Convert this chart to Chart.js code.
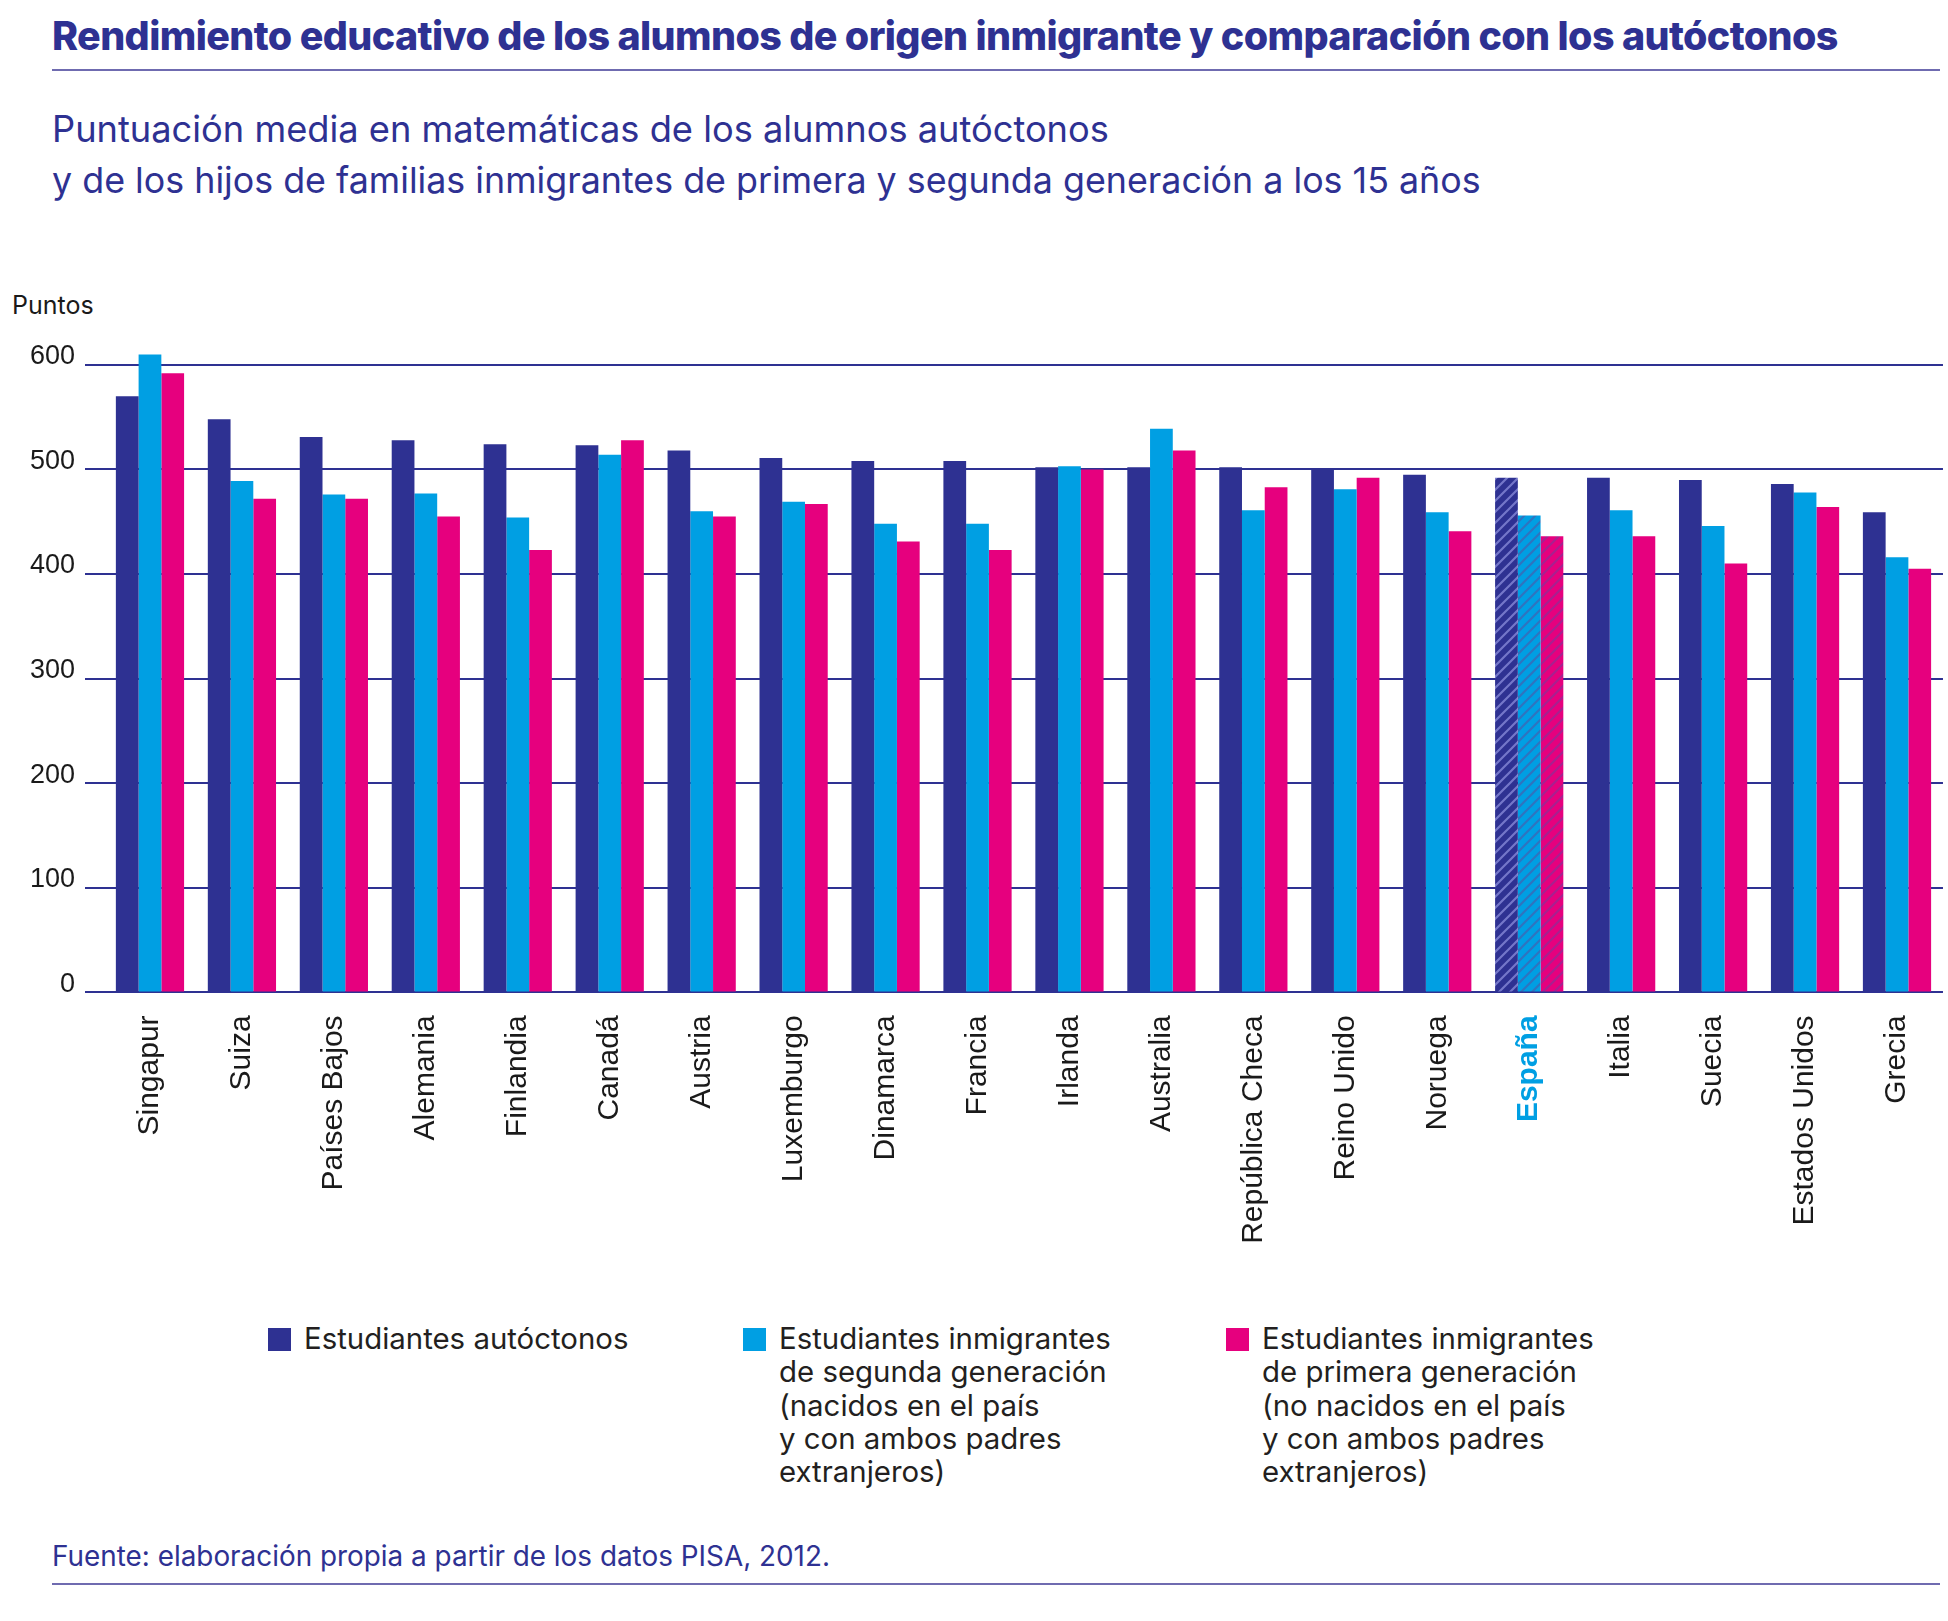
<!DOCTYPE html>
<html lang="es">
<head>
<meta charset="utf-8">
<title>Rendimiento educativo de los alumnos de origen inmigrante</title>
<script src="https://cdn.jsdelivr.net/npm/chart.js@4.4.1/dist/chart.umd.min.js"></script>
<style>
  html, body { margin: 0; padding: 0; background: #fff; }
  body { width: 1948px; height: 1621px; position: relative; overflow: hidden;
         font-family: "Inter", "Roboto", sans-serif; }
  .txt { position: absolute; white-space: nowrap; line-height: 1.2; transform: translateY(-50%); }
  .rule { position: absolute; height: 2px; background: #6f6bb0; }
  #title { left: 52px; top: 37px; color: #2e3192; font-weight: 800; font-size: 35px; letter-spacing: -0.6px; }
  .sub { left: 52px; color: #2e3192; font-weight: 400; font-size: 34px; }
  #puntos { left: 12px; top: 305px; color: #1a1a1a; font-size: 25px; }
  #footer { left: 52px; top: 1557px; color: #2e3192; font-size: 28px; }
  .sw { position: absolute; width: 23px; height: 23px; top: 1328px; }
  .leg { position: absolute; top: 1322px; color: #231f20; font-size: 29.4px; line-height: 33.3px; white-space: nowrap; }
  #chartBox { position: absolute; left: 0; top: 280px; width: 1948px; height: 1000px; }
</style>
</head>
<body>
<div id="title" class="txt" data-w="1780">Rendimiento educativo de los alumnos de origen inmigrante y comparación con los autóctonos</div>
<div class="rule" style="left:52px; top:69px; width:1888px;"></div>
<div class="txt sub" style="top:130px;" data-w="1057">Puntuación media en matemáticas de los alumnos autóctonos</div>
<div class="txt sub" style="top:180px;" data-w="1429">y de los hijos de familias inmigrantes de primera y segunda generación a los 15 años</div>
<div id="puntos" class="txt">Puntos</div>

<div id="chartBox"><canvas id="mainChart"></canvas></div>

<div class="sw" style="left:268px; background:#2e3192;"></div>
<div class="leg" style="left:304px;">Estudiantes autóctonos</div>
<div class="sw" style="left:743px; background:#009fe3;"></div>
<div class="leg" style="left:779px;">Estudiantes inmigrantes<br>de segunda generación<br>(nacidos en el país<br>y con ambos padres<br>extranjeros)</div>
<div class="sw" style="left:1226px; background:#e6007e;"></div>
<div class="leg" style="left:1262px;">Estudiantes inmigrantes<br>de primera generación<br>(no nacidos en el país<br>y con ambos padres<br>extranjeros)</div>

<div id="footer" class="txt" data-w="778">Fuente: elaboración propia a partir de los datos PISA, 2012.</div>
<div class="rule" style="left:52px; top:1583px; width:1888px;"></div>

<script>
// Data (PISA 2012, mathematics)
const countries = ['Singapur', 'Suiza', 'Países Bajos', 'Alemania', 'Finlandia', 'Canadá', 'Austria',
    'Luxemburgo', 'Dinamarca', 'Francia', 'Irlanda', 'Australia', 'República Checa', 'Reino Unido',
    'Noruega', 'España', 'Italia', 'Suecia', 'Estados Unidos', 'Grecia'];
const nativeScores = [570, 548, 531, 528, 524, 523, 518, 511, 508, 508, 502, 502, 502, 500, 495, 492, 492, 490, 486, 459];
const secondGenScores = [610, 489, 476, 477, 454, 514, 460, 469, 448, 448, 503, 539, 461, 481, 459, 456, 461, 446, 478, 416];
const firstGenScores = [592, 472, 472, 455, 423, 528, 455, 467, 431, 423, 500, 518, 483, 492, 441, 436, 436, 410, 464, 405];
const yTicks = [0, 100, 200, 300, 400, 500, 600];
const highlightCountry = 'España';

const NAVY = '#2e3192';
const CYAN = '#009fe3';
const PINK = '#e6007e';

/**
 * Scales the font size of every element with a data-w attribute so the text
 * spans the width measured on the reference.
 */
function fitTexts() {
    document.querySelectorAll('[data-w]').forEach(el => {
        const target = parseFloat(el.dataset.w);
        const size = parseFloat(getComputedStyle(el).fontSize);
        const w = el.getBoundingClientRect().width;
        if (w > 0) el.style.fontSize = (size * target / w).toFixed(2) + 'px';
    });
}

/**
 * Builds a diagonal-stripe pattern used for the highlighted country.
 */
function makeHatch(base, stripe) {
    const s = 11;
    const c = document.createElement('canvas');
    c.width = s; c.height = s;
    const g = c.getContext('2d');
    g.fillStyle = base;
    g.fillRect(0, 0, s, s);
    g.strokeStyle = stripe;
    g.lineWidth = 2.2;
    g.beginPath();
    g.moveTo(-2, s + 2); g.lineTo(s + 2, -2);
    g.moveTo(-2, 2); g.lineTo(2, -2);
    g.moveTo(s - 2, s + 2); g.lineTo(s + 2, s - 2);
    g.stroke();
    return g.createPattern(c, 'repeat');
}

function createChart() {
    const hiIndex = countries.indexOf(highlightCountry);
    const colorFor = (base, hatch) => ctx => ctx.dataIndex === hiIndex ? hatch : base;

    const ctx = document.getElementById('mainChart').getContext('2d');
    new Chart(ctx, {
        type: 'bar',
        data: {
            labels: countries,
            datasets: [
                {
                    label: 'Estudiantes autóctonos',
                    data: nativeScores,
                    backgroundColor: colorFor(NAVY, makeHatch(NAVY, '#7477c9'))
                },
                {
                    label: 'Estudiantes inmigrantes de segunda generación',
                    data: secondGenScores,
                    backgroundColor: colorFor(CYAN, makeHatch(CYAN, '#2f74bf'))
                },
                {
                    label: 'Estudiantes inmigrantes de primera generación',
                    data: firstGenScores,
                    backgroundColor: colorFor(PINK, makeHatch(PINK, '#a8208f'))
                }
            ]
        },
        options: {
            responsive: true,
            maintainAspectRatio: false,
            animation: false,
            layout: { padding: { top: 43, right: 0, bottom: 0, left: 0 } },
            datasets: { bar: { categoryPercentage: 0.742, barPercentage: 1, borderWidth: 0 } },
            plugins: {
                legend: { display: false },
                tooltip: { enabled: false }
            },
            scales: {
                x: {
                    grid: { display: false },
                    border: { display: false },
                    ticks: {
                        autoSkip: false,
                        minRotation: 90,
                        maxRotation: 90,
                        padding: 15,
                        color: c => c.index === hiIndex ? CYAN : '#1a1a1a',
                        font: c => ({
                            family: '"Liberation Sans", Arial, sans-serif',
                            size: 30,
                            weight: c.index === hiIndex ? 'bold' : 'normal'
                        })
                    },
                    afterFit: scale => { scale.height = 287.6; }
                },
                y: {
                    min: 0,
                    max: 640,
                    border: { display: false },
                    grid: { color: NAVY, lineWidth: 2, tickLength: 19, tickColor: NAVY },
                    ticks: {
                        stepSize: 100,
                        padding: 10,
                        labelOffset: -8,
                        color: '#1a1a1a',
                        font: { family: '"Liberation Sans", Arial, sans-serif', size: 27 }
                    },
                    afterBuildTicks: scale => {
                        scale.ticks = yTicks.map(v => ({ value: v }));
                    },
                    afterFit: scale => { scale.width = 104; }
                }
            }
        }
    });
}

document.addEventListener('DOMContentLoaded', () => {
    fitTexts();
    createChart();
});
</script>
</body>
</html>
